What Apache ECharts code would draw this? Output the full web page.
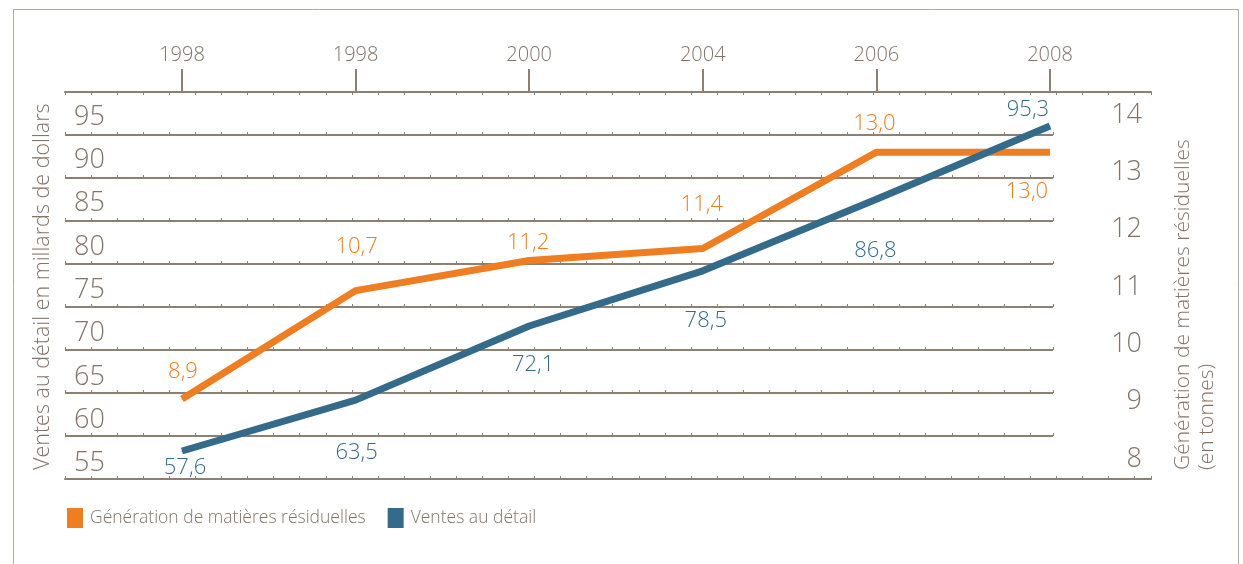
<!DOCTYPE html>
<html>
<head>
<meta charset="utf-8">
<script src="https://cdn.jsdelivr.net/npm/echarts@6/dist/echarts.min.js"></script>
<style>
html,body{margin:0;padding:0;background:#fff;}
#chart{width:1243px;height:564px;}
</style>
</head>
<body>
<div id="chart"></div>
<script>
// ---- data ----
const yearLabels = ['1998', '1998', '2000', '2004', '2006', '2008'];
const residualTonnes = [8.9, 10.7, 11.2, 11.4, 13.0, 13.0];   // Génération de matières résiduelles
const retailSales = [57.6, 63.5, 72.1, 78.5, 86.8, 95.3];      // Ventes au détail
const leftTickLabels = [55, 60, 65, 70, 75, 80, 85, 90, 95];
const rightTickLabels = [8, 9, 10, 11, 12, 13, 14];
const seriesNames = ['Génération de matières résiduelles', 'Ventes au détail'];
const leftTitle = 'Ventes au détail en millards de dollars';
const rightTitle = 'Génération de matières résiduelles\n(en tonnes)';

// ---- styles ----
const ORANGE = '#ef7d22';
const BLUE = '#346a8a';
const TEXT = '#837367';
const LINE = '#8e7f73';
const FONT = "'Open Sans', 'Noto Sans', sans-serif";
const orangeLabelOffsets = [[1, -27], [1, -44], [-1, -18], [-1, -44], [-2, -28], [-23, 40]];
const blueLabelOffsets = [[3, 17], [1, 53], [4, 39], [3, 50], [-1, 51], [-22, -16]];

const fmt = v => v.toFixed(1).replace('.', ',');

function buildData(values, offsets) {
  return values.map((v, i) => ({
    value: [i, v],
    label: { offset: offsets[i] }
  }));
}

const xAxes = [];
// main top axis (grid 0)
xAxes.push({
  gridIndex: 0, type: 'value', position: 'top', min: -0.674, max: 5.582,
  axisLine: { show: true, lineStyle: { color: LINE, width: 2 } },
  axisTick: { show: true, customValues: [0, 1, 2, 3, 4, 5], length: 23, lineStyle: { color: LINE, width: 2 } },
  axisLabel: { show: true, customValues: [0, 1, 2, 3, 4, 5], margin: 27,
    formatter: v => yearLabels[Math.round(v)], color: TEXT, fontSize: 20, fontFamily: FONT, fontWeight: 300 },
  splitLine: { show: false }
});
// bottom line (grid 0)
xAxes.push({
  gridIndex: 0, type: 'value', position: 'bottom', min: 0, max: 41.64, interval: 1,
  axisLine: { show: true, lineStyle: { color: LINE, width: 2 } },
  axisTick: { show: true, inside: true, length: 3, lineStyle: { color: LINE, width: 1 } },
  axisLabel: { show: false }, splitLine: { show: false }
});
// top minor ticks (grid 0)
xAxes.push({
  gridIndex: 0, type: 'value', position: 'top', min: 0, max: 41.64, interval: 1,
  axisLine: { show: false },
  axisTick: { show: true, inside: true, length: 3, lineStyle: { color: LINE, width: 1 } },
  axisLabel: { show: false }, splitLine: { show: false }
});
// minor ticks on interior lines (grid 1)
for (let k = 1; k <= 8; k++) {
  xAxes.push({
    gridIndex: 1, type: 'value', position: 'bottom', offset: -43 * k, min: 0, max: 37.88, interval: 1,
    axisLine: { show: false },
    axisTick: { show: true, inside: true, length: 3, lineStyle: { color: LINE, width: 1 } },
    axisLabel: { show: false }, splitLine: { show: false }
  });
}

const option = {
  animation: false,
  backgroundColor: '#fff',
  grid: [
    { left: 65, top: 92, width: 1086, height: 387 },
    { left: 65, top: 92, width: 988, height: 387 }
  ],
  xAxis: xAxes,
  yAxis: [
    { // horizontal lines
      gridIndex: 1, type: 'value', position: 'left', min: 52.5, max: 97.5, interval: 5,
      axisLine: { show: false }, axisTick: { show: false }, axisLabel: { show: false },
      splitLine: { show: true, lineStyle: { color: LINE, width: 2 } }
    },
    { // left labels
      gridIndex: 1, type: 'value', position: 'left', min: 53.2, max: 97.9,
      axisLine: { show: false }, axisTick: { show: false }, splitLine: { show: false },
      axisLabel: { show: true, customValues: leftTickLabels, inside: true, margin: 9,
        color: TEXT, fontSize: 27, fontFamily: FONT, fontWeight: 300 }
    },
    { // right labels
      gridIndex: 0, type: 'value', position: 'right', min: 7.651, max: 14.401,
      axisLine: { show: false }, axisTick: { show: false }, splitLine: { show: false },
      axisLabel: { show: true, customValues: rightTickLabels, inside: true, margin: 9,
        color: TEXT, fontSize: 27, fontFamily: FONT, fontWeight: 300 }
    },
    { // retail sales scale (hidden)
      gridIndex: 0, type: 'value', min: 54.352, max: 99.247, show: false
    },
    { // residual scale (hidden)
      gridIndex: 0, type: 'value', min: 7.571, max: 14.0, show: false
    }
  ],
  legend: {
    left: 62, top: 503, itemWidth: 16, itemHeight: 20, itemGap: 22, icon: 'rect',
    data: seriesNames,
    textStyle: { color: TEXT, fontSize: 17.5, fontFamily: FONT, fontWeight: 300, padding: [0, 0, 0, 2] }
  },
  series: [
    {
      name: seriesNames[0], type: 'line', xAxisIndex: 0, yAxisIndex: 4,
      data: buildData(residualTonnes, orangeLabelOffsets),
      symbol: 'circle', symbolSize: 1, color: ORANGE,
      itemStyle: { color: ORANGE },
      lineStyle: { color: ORANGE, width: 7 },
      label: { show: true, position: 'inside', color: ORANGE, fontSize: 22, fontFamily: FONT, fontWeight: 300,
        formatter: p => fmt(p.value[1]) },
      z: 3
    },
    {
      name: seriesNames[1], type: 'line', xAxisIndex: 0, yAxisIndex: 3,
      data: buildData(retailSales, blueLabelOffsets),
      symbol: 'circle', symbolSize: 1, color: BLUE,
      itemStyle: { color: BLUE },
      lineStyle: { color: BLUE, width: 7 },
      label: { show: true, position: 'inside', color: BLUE, fontSize: 22, fontFamily: FONT, fontWeight: 300,
        formatter: p => fmt(p.value[1]) },
      z: 4
    }
  ],
  graphic: [
    { type: 'rect', shape: { x: 13.5, y: 9.5, width: 1225, height: 600 },
      style: { fill: 'none', stroke: '#b5aaa0', lineWidth: 1 }, silent: true },
    { type: 'text', x: 32, y: 470, rotation: Math.PI / 2,
      style: { text: leftTitle, fill: TEXT, font: "300 21.5px " + FONT, align: 'left', verticalAlign: 'top' } },
    { type: 'text', x: 1171, y: 470, rotation: Math.PI / 2,
      style: { text: rightTitle, fill: TEXT, font: "300 21px " + FONT, lineHeight: 24, align: 'left', verticalAlign: 'top' } }
  ]
};

const chart = echarts.init(document.getElementById('chart'), null, { renderer: 'canvas' });
chart.setOption(option);
</script>
</body>
</html>
